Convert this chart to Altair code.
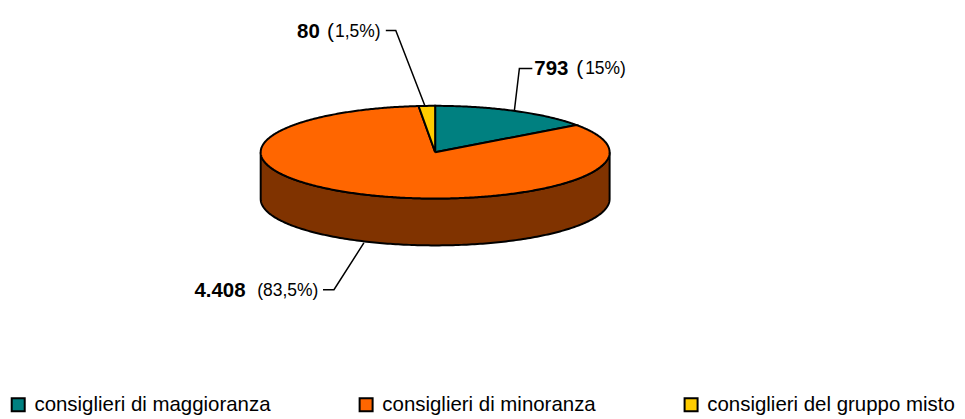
import numpy as np
import pandas as pd
import altair as alt

categories = ["consiglieri di maggioranza", "consiglieri di minoranza", "consiglieri del gruppo misto"]
values = [793, 4408, 80]
colors = ["#008080", "#FF6600", "#FFCC00"]
value_labels = ["793", "4.408", "80"]
pct_labels = ["15%)", "(83,5%)", "1,5%)"]

FONT = "Liberation Sans"
W, H = 952, 409
CX, CY, RX, RY, DEPTH = 434.5, 152, 175, 46.5, 47
SIDE = "#803300"

def pt(theta, dy=0):
    return CX + RX * np.sin(theta), CY + dy - RY * np.cos(theta)

rows = []
total = sum(values)
start = 0.0
for cat, v in zip(categories, values):
    end = start + 2 * np.pi * v / total
    n = max(3, int((end - start) / 0.01))
    pts = [(CX, CY)] + [pt(t) for t in np.linspace(start, end, n)] + [(CX, CY)]
    for i, (x, y) in enumerate(pts):
        rows.append({"name": cat, "x": x, "y": y, "i": i})
    start = end
wedges = pd.DataFrame(rows)

th = np.linspace(np.pi / 2, 3 * np.pi / 2, 200)
top = [pt(t) for t in th]
bottom = [pt(t, DEPTH) for t in th[::-1]]
outline = top + bottom + top[:1]
side = pd.DataFrame({"x": [p[0] for p in outline], "y": [p[1] for p in outline], "i": range(len(outline))})

leaders = pd.DataFrame([
    {"g": "a", "i": 0, "x": 532, "y": 68}, {"g": "a", "i": 1, "x": 519, "y": 68}, {"g": "a", "i": 2, "x": 514, "y": 110},
    {"g": "b", "i": 0, "x": 322, "y": 290}, {"g": "b", "i": 1, "x": 333, "y": 290}, {"g": "b", "i": 2, "x": 363, "y": 243},
    {"g": "c", "i": 0, "x": 385, "y": 30}, {"g": "c", "i": 1, "x": 395, "y": 30}, {"g": "c", "i": 2, "x": 424, "y": 105},
])

bold = pd.DataFrame({"t": value_labels, "x": [534, 193, 296], "y": [75, 297, 37]})
paren = pd.DataFrame({"t": ["(", "("], "x": [576, 326], "y": [75, 37]})
small = pd.DataFrame({"t": pct_labels, "x": [585, 256, 334], "y": [74, 296, 36]})

xs = alt.Scale(domain=[6, 6 + W], nice=False, zero=False)
ys = alt.Scale(domain=[8 + H, 8], nice=False, zero=False)
X = alt.X("x:Q", scale=xs, axis=None)
Y = alt.Y("y:Q", scale=ys, axis=None)

side_layer = alt.Chart(side).mark_line(filled=True, fill=SIDE, stroke="black", strokeWidth=2).encode(
    x=X, y=Y, order="i:Q")

wedge_layer = alt.Chart(wedges).mark_line(filled=True, stroke="black", strokeWidth=2, strokeJoin="miter").encode(
    x=X, y=Y, order="i:Q",
    fill=alt.Fill("name:N", scale=alt.Scale(domain=categories, range=colors), legend=alt.Legend(
        title=None, orient="none", legendX=0, legendY=387, direction="horizontal", padding=0,
        symbolType="square", symbolSize=170, symbolStrokeColor="black", symbolStrokeWidth=2,
        symbolOpacity=1, labelFont=FONT, labelFontSize=20.5, labelColor="black", labelLimit=400,
        columns=3, columnPadding=84, gridAlign="none", labelOffset=6,
    )),
)

leader_layer = alt.Chart(leaders).mark_line(color="black", strokeWidth=1.5).encode(
    x=X, y=Y, detail="g:N", order="i:Q")

bold_layer = alt.Chart(bold).mark_text(font=FONT, fontSize=20.5, fontWeight="bold", align="left", color="black").encode(
    x=X, y=Y, text="t:N")
paren_layer = alt.Chart(paren).mark_text(font=FONT, fontSize=21, align="left", color="black").encode(
    x=X, y=Y, text="t:N")
small_layer = alt.Chart(small).mark_text(font=FONT, fontSize=17.5, align="left", color="black").encode(
    x=X, y=Y, text="t:N")

chart = alt.layer(side_layer, wedge_layer, leader_layer, bold_layer, paren_layer, small_layer).properties(
    width=W, height=H, padding=0, autosize=alt.AutoSizeParams(type="none")
).configure_view(stroke=None, clip=False).configure_text(baseline="alphabetic")

chart.save("out.html", embed_options={"renderer": "svg", "actions": False})
